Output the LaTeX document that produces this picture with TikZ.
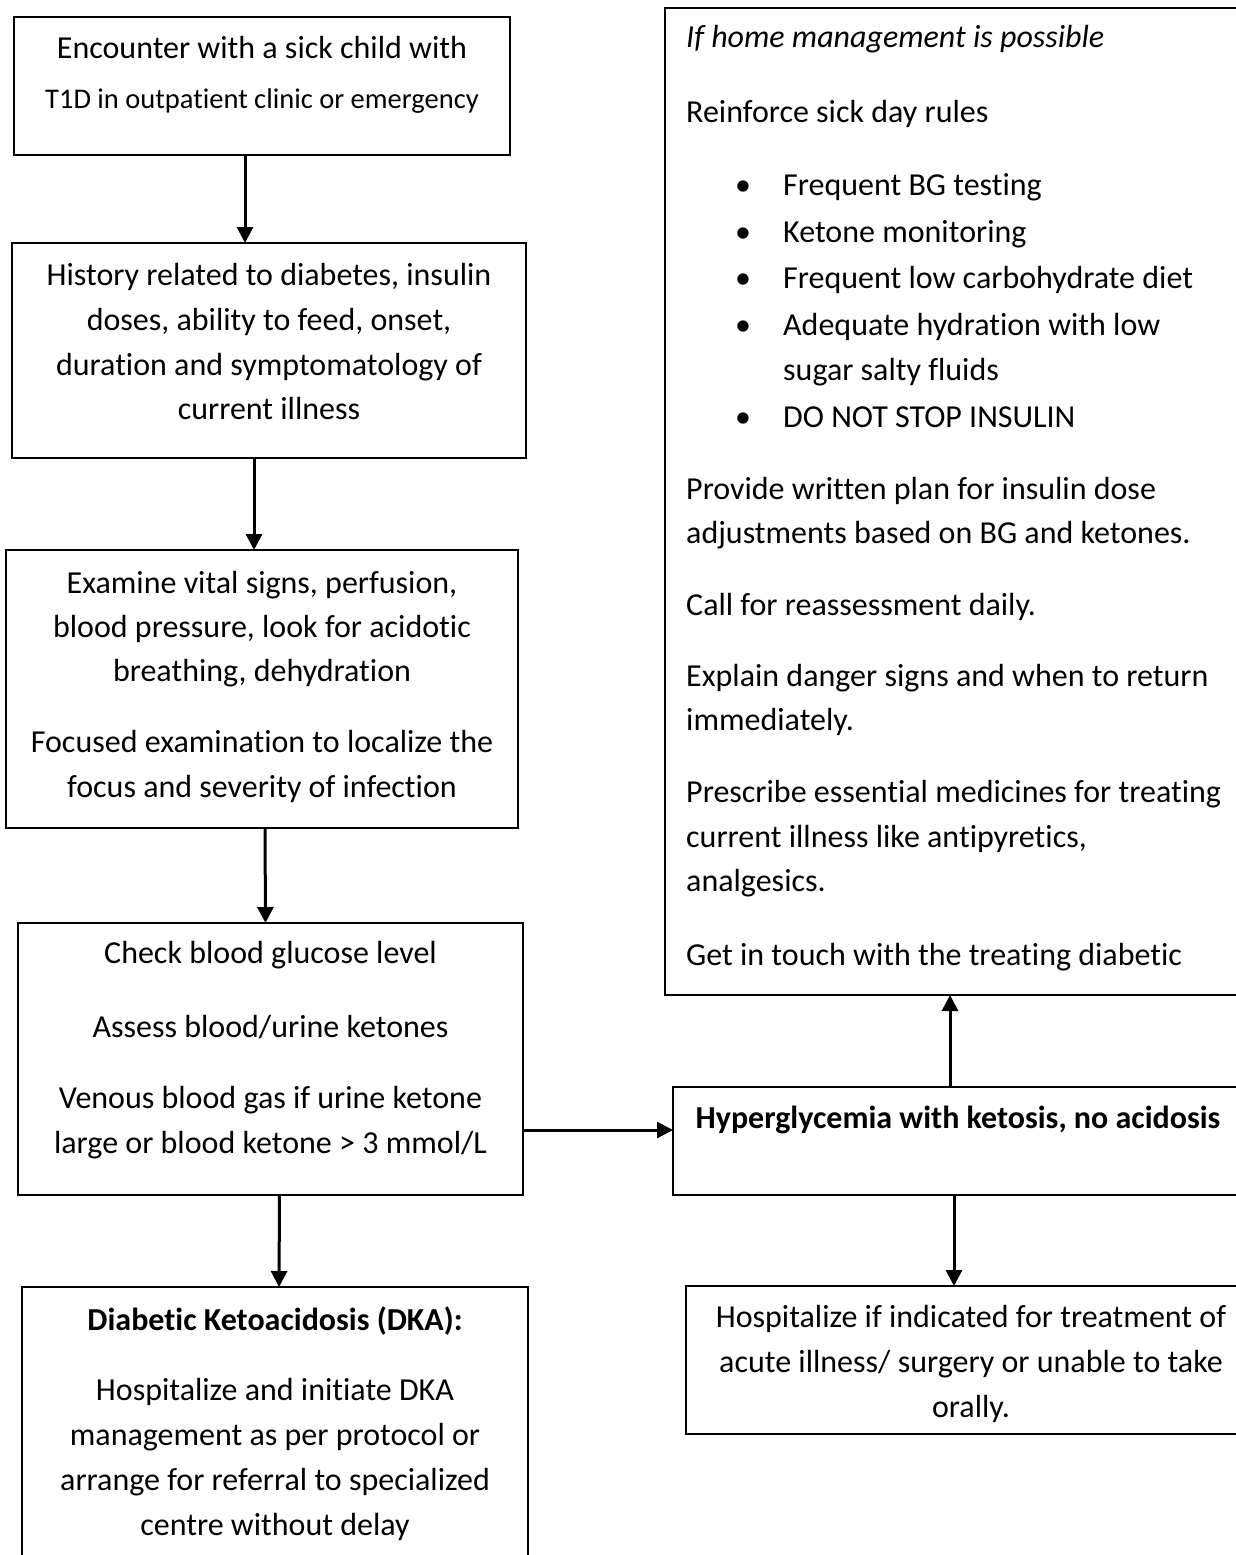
\documentclass[tikz,border=0pt]{standalone}
\usepackage{fontspec}
\setmainfont[Ligatures=NoCommon]{Carlito}
\usetikzlibrary{arrows.meta,calc}
\begin{document}
\begin{tikzpicture}[x=1pt,y=-1pt,
  box/.style={draw=black,line width=2pt,rectangle,inner sep=0pt,outer sep=0pt},
  ctext/.style={anchor=base,inner sep=0pt,font=\fontsize{32}{45}\selectfont},
  ltext/.style={anchor=base west,inner sep=0pt,font=\fontsize{32}{45}\selectfont},
  arr/.style={line width=3pt,-{Triangle[length=16pt,width=16pt]}}]
\fill[white] (0,0) rectangle (1236,1555);
\clip (0,0) rectangle (1236,1555);
% boxes
\node[box,minimum width=496pt,minimum height=138pt] (b1) at (262,86) {};
\node[box,minimum width=514pt,minimum height=215pt] (b2) at (269,350.5) {};
\node[box,minimum width=512pt,minimum height=278pt] (b3) at (262,689) {};
\node[box,minimum width=505pt,minimum height=272pt] (b4) at (270.5,1059) {};
\node[box,minimum width=506pt,minimum height=313pt] (b5) at (275,1443.5) {};
\node[box,minimum width=575pt,minimum height=987pt] (home) at (952.5,501.5) {};
\node[box,minimum width=570pt,minimum height=108pt] (hyper) at (958,1141) {};
\node[box,minimum width=570pt,minimum height=148pt] (hosp) at (971,1360) {};
% box 1
\node[ctext] (t1a) at (262,59) {Encounter with a sick child with};
\node[ctext,font=\fontsize{28.5}{40}\selectfont] (t1b) at (262,108) {T1D in outpatient clinic or emergency};
% box 2
\node[ctext] (t2a) at (269,285) {History related to diabetes, insulin};
\node[ctext] (t2b) at (269,330) {doses, ability to feed, onset,};
\node[ctext] (t2c) at (269,375) {duration and symptomatology of};
\node[ctext] (t2d) at (269,419) {current illness};
% box 3
\node[ctext] (t3a) at (262,593) {Examine vital signs, perfusion,};
\node[ctext] (t3b) at (262,637) {blood pressure, look for acidotic};
\node[ctext] (t3c) at (262,681) {breathing, dehydration};
\node[ctext] (t3d) at (262,752) {Focused examination to localize the};
\node[ctext] (t3e) at (262,797) {focus and severity of infection};
% box 4
\node[ctext] (t4a) at (270.5,963) {Check blood glucose level};
\node[ctext] (t4b) at (270.5,1037) {Assess blood/urine ketones};
\node[ctext] (t4c) at (270.5,1108) {Venous blood gas if urine ketone};
\node[ctext] (t4d) at (270.5,1153) {large or blood ketone > 3 mmol/L};
% box 5
\node[ctext,font=\fontsize{32}{45}\bfseries] (t5a) at (275,1330) {Diabetic Ketoacidosis (DKA):};
\node[ctext] (t5b) at (275,1400) {Hospitalize and initiate DKA};
\node[ctext] (t5c) at (275,1445) {management as per protocol or};
\node[ctext] (t5d) at (275,1490) {arrange for referral to specialized};
\node[ctext] (t5e) at (275,1535) {centre without delay};
% hyper
\node[ctext,font=\fontsize{32}{45}\bfseries] (th) at (958,1128) {Hyperglycemia with ketosis, no acidosis};
% hosp
\node[ctext] (tpa) at (971,1327) {Hospitalize if indicated for treatment of};
\node[ctext] (tpb) at (971,1372) {acute illness/ surgery or unable to take};
\node[ctext] (tpc) at (971,1417) {orally.};
% home box
\node[ltext,font=\fontsize{32}{45}\itshape] (r1) at (686,48) {If home management is possible};
\node[ltext] (r2) at (686,122) {Reinforce sick day rules};
\node[ltext] (u1) at (735,195) {\textbullet};
\node[ltext] (r3) at (783,195) {Frequent BG testing};
\node[ltext] (u2) at (735,242) {\textbullet};
\node[ltext] (r4) at (783,242) {Ketone monitoring};
\node[ltext] (u3) at (735,288) {\textbullet};
\node[ltext] (r5) at (783,288) {Frequent low carbohydrate diet};
\node[ltext] (u4) at (735,335) {\textbullet};
\node[ltext] (r6) at (783,335) {Adequate hydration with low};
\node[ltext] (r7) at (783,380) {sugar salty fluids};
\node[ltext] (u5) at (735,427) {\textbullet};
\node[ltext] (r8) at (783,427) {DO NOT STOP INSULIN};
\node[ltext] (r9) at (686,499) {Provide written plan for insulin dose};
\node[ltext] (r10) at (686,543) {adjustments based on BG and ketones.};
\node[ltext] (r11) at (686,615) {Call for reassessment daily.};
\node[ltext] (r12) at (686,686) {Explain danger signs and when to return};
\node[ltext] (r13) at (686,730) {immediately.};
\node[ltext] (r14) at (686,802) {Prescribe essential medicines for treating};
\node[ltext] (r15) at (686,847) {current illness like antipyretics,};
\node[ltext] (r16) at (686,891) {analgesics.};
\node[ltext] (r17) at (686,965) {Get in touch with the treating diabetic};
% connectors
\draw[arr] ([xshift=-17pt]b1.south) -- ([xshift=-24pt]b2.north);
\draw[arr] ([xshift=-15pt]b2.south) -- ([xshift=-8pt]b3.north);
\draw[arr] ([xshift=3pt]b3.south) -- ([xshift=-5pt]b4.north);
\draw[arr] ([xshift=9pt]b4.south) -- ([xshift=4pt]b5.north);
\draw[arr] ([yshift=-71pt]b4.east) -- ([yshift=11pt]hyper.west);
\draw[arr] ([xshift=-8pt]hyper.north) -- ([xshift=-2.5pt]home.south);
\draw[arr] ([xshift=-4pt]hyper.south) -- ([xshift=-17pt]hosp.north);
\end{tikzpicture}
\end{document}
